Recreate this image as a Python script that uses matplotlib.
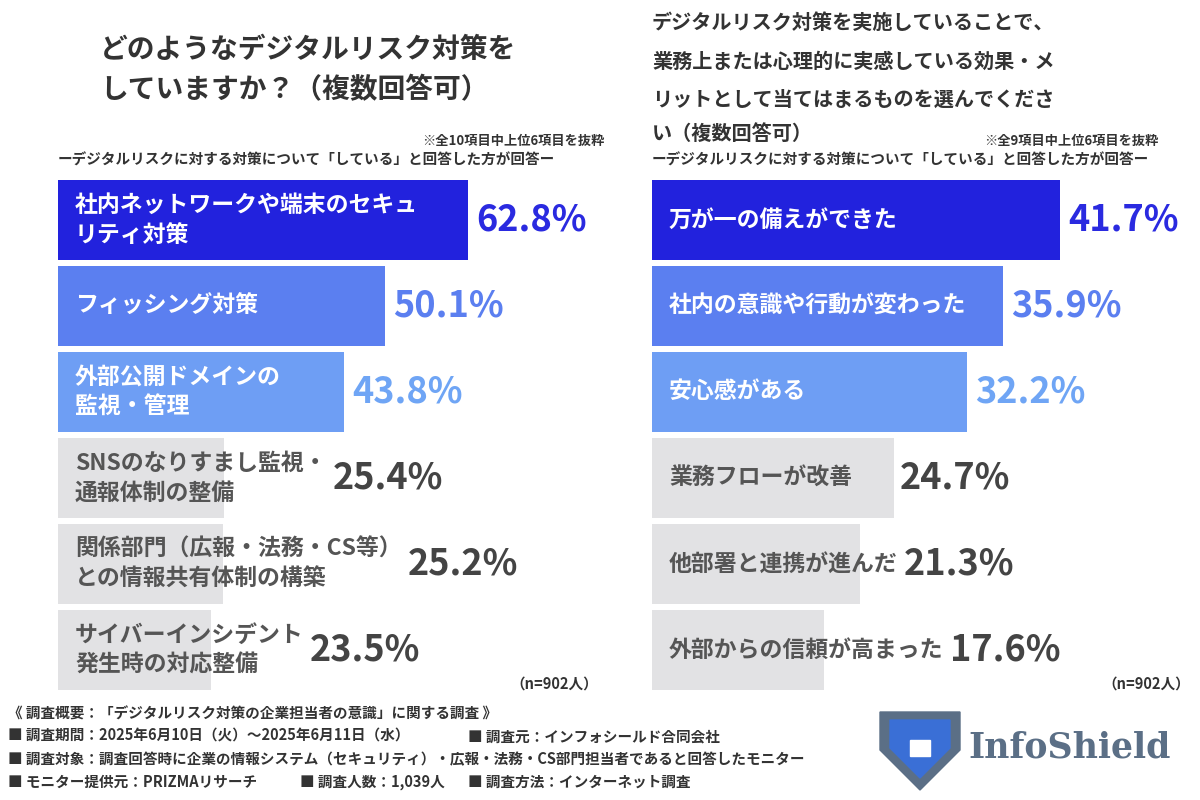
import matplotlib
matplotlib.use("Agg")
import matplotlib.pyplot as plt
from matplotlib.patches import Rectangle, Polygon
from matplotlib.transforms import offset_copy

plt.rcParams["font.family"] = "Noto Sans CJK JP"

left_labels = ["社内ネットワークや端末のセキュ\nリティ対策", "フィッシング対策", "外部公開ドメインの\n監視・管理",
               "SNSのなりすまし監視・\n通報体制の整備", "関係部門（広報・法務・CS等）\nとの情報共有体制の構築",
               "サイバーインシデント\n発生時の対応整備"]
left_values = [62.8, 50.1, 43.8, 25.4, 25.2, 23.5]
right_labels = ["万が一の備えができた", "社内の意識や行動が変わった", "安心感がある",
                "業務フローが改善", "他部署と連携が進んだ", "外部からの信頼が高まった"]
right_values = [41.7, 35.9, 32.2, 24.7, 21.3, 17.6]

bar_colors = ["#2222dd", "#5b7ff0", "#6e9ef4", "#e2e2e4", "#e2e2e4", "#e2e2e4"]
val_colors = ["#2a2ae0", "#5b7ff0", "#6fa5f5", "#444444", "#444444", "#444444"]
txt_colors = ["white", "white", "white", "#555555", "#555555", "#555555"]

W, H = 1200, 800
fig = plt.figure(figsize=(12, 8), dpi=100)
fig.patch.set_facecolor("white")
renderer = fig.canvas.get_renderer()

def px_axes(x0, y0, x1, y1):
    return fig.add_axes([x0 / W, 1 - y1 / H, (x1 - x0) / W, (y1 - y0) / H])

def panel(x0, xend, vmax, labels, values):
    ax = px_axes(x0, 177, xend, 693)
    ax.set_xlim(0, vmax)
    ax.set_ylim(len(values) - 0.5, -0.5)
    ax.axis("off")
    ys = range(len(values))
    ax.barh(list(ys), values, height=0.93, color=bar_colors, clip_on=False)
    for i, (lab, v) in enumerate(zip(labels, values)):
        tl = ax.text(0, i, lab, transform=offset_copy(ax.transData, fig=fig, x=17, y=0, units="dots"),
                     va="center", ha="left", fontsize=16.5, fontweight="bold", color=txt_colors[i],
                     linespacing=1.4, clip_on=False)
        bar_end = ax.transData.transform((v, i))[0]
        lab_end = tl.get_window_extent(renderer).x1
        xpix = bar_end + 8 if i < 3 else max(bar_end, lab_end) + 6
        xdata = ax.transData.inverted().transform((xpix, 0))[0]
        ax.text(xdata, i, f"{v}%", va="center", ha="left", fontsize=26, fontweight="bold",
                color=val_colors[i], clip_on=False)
    return ax

panel(58, 468, 62.8, left_labels, left_values)
panel(652, 1060, 41.7, right_labels, right_values)

def t(x, y, s, **kw):
    fig.text(x / W, 1 - y / H, s, **kw)

t(100, 50, "どのようなデジタルリスク対策を", fontsize=20, fontweight="bold", color="#333", va="center")
t(100, 90, "していますか？（複数回答可）", fontsize=20, fontweight="bold", color="#333", va="center")
for y, s in [(22, "デジタルリスク対策を実施していることで、"), (61, "業務上または心理的に実感している効果・メ"),
             (99, "リットとして当てはまるものを選んでくださ"), (133, "い（複数回答可）")]:
    t(652, y, s, fontsize=14.5, fontweight="bold", color="#333", va="center")
t(605, 141, "※全10項目中上位6項目を抜粋", fontsize=9.5, fontweight="bold", color="#333", va="center", ha="right")
t(1158, 141, "※全9項目中上位6項目を抜粋", fontsize=9.5, fontweight="bold", color="#333", va="center", ha="right")
t(58, 160, "ーデジタルリスクに対する対策について「している」と回答した方が回答ー", fontsize=10.5, fontweight="bold", color="#333", va="center")
t(652, 160, "ーデジタルリスクに対する対策について「している」と回答した方が回答ー", fontsize=10.5, fontweight="bold", color="#333", va="center")
t(598, 684, "（n=902人）", fontsize=10.5, fontweight="bold", color="#333", va="center", ha="right")
t(1190, 684, "（n=902人）", fontsize=10.5, fontweight="bold", color="#333", va="center", ha="right")

notes = [(8, 714, "《 調査概要：「デジタルリスク対策の企業担当者の意識」に関する調査 》"),
         (8, 736, "■ 調査期間：2025年6月10日（火）～2025年6月11日（水）"),
         (468, 736, "■ 調査元：インフォシールド合同会社"),
         (8, 759, "■ 調査対象：調査回答時に企業の情報システム（セキュリティ）・広報・法務・CS部門担当者であると回答したモニター"),
         (8, 782, "■ モニター提供元：PRIZMAリサーチ"),
         (300, 782, "■ 調査人数：1,039人"),
         (468, 782, "■ 調査方法：インターネット調査")]
for x, y, s in notes:
    t(x, y, s, fontsize=10.5, fontweight="bold", color="#333", va="center")

# logo
lax = px_axes(870, 700, 1190, 795)
lax.set_xlim(870, 1190); lax.set_ylim(795, 700); lax.axis("off")
lax.add_patch(Polygon([(880, 712), (960, 712), (960, 750), (920, 790), (880, 750)], color="#5b6f86"))
lax.add_patch(Polygon([(890, 720), (950, 720), (950, 748), (920, 778), (890, 748)], color="#3a6fd6"))
lax.add_patch(Rectangle((910, 740), 20, 16, color="white"))
lax.text(968, 747, "InfoShield", fontsize=25, fontweight="bold", color="#5b6f86",
         va="center", ha="left", fontfamily="DejaVu Serif")

fig.savefig("out.png", dpi=100, facecolor="white")
